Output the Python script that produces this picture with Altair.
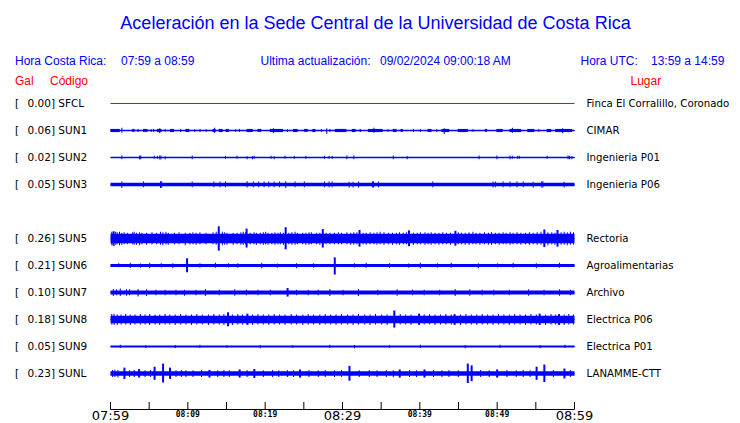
import altair as alt
import pandas as pd

TITLE = "Aceleración en la Sede Central de la Universidad de Costa Rica"
HORA_CR = "07:59 a 08:59"
ACTUALIZACION = "09/02/2024 09:00:18 AM"
HORA_UTC = "13:59 a 14:59"

codes = ["SFCL", "SUN1", "SUN2", "SUN3", "SUN5", "SUN6", "SUN7", "SUN8", "SUN9", "SUNL"]
rows = [0, 1, 2, 3, 5, 6, 7, 8, 9, 10]
peak_gal = ["0.00", "0.06", "0.02", "0.05", "0.26", "0.21", "0.10", "0.18", "0.05", "0.23"]
places = ["Finca El Corralillo, Coronado", "CIMAR", "Ingenieria P01", "Ingenieria P06",
          "Rectoria", "Agroalimentarias", "Archivo", "Electrica P06", "Electrica P01", "LANAMME-CTT"]
trace_colors = ["#ff0000", "#0000ff", "#0000ff", "#0000ff", "#0000ff",
                "#0000ff", "#0000ff", "#0000ff", "#0000ff", "#0000ff"]
# continuous noise level of each trace (Gal, half width)
band_gal = [0.0, 0.016, 0.015, 0.04, 0.105, 0.033, 0.042, 0.085, 0.02, 0.05]

tick_minutes = list(range(0, 61, 5))
big_minutes = [0, 30, 60]
big_labels = ["07:59", "08:29", "08:59"]
small_minutes = [10, 20, 40, 50]
small_labels = ["08:09", "08:19", "08:39", "08:49"]

# stretches of slightly higher noise: (minute start, minute end, up Gal, down Gal)
segments = {
    "SUN1": [(0.0, 1.2, 0.035, 0.035), (2.8, 3.1, 0.035, 0.03), (3.5, 3.65, 0.035, 0.035), (4.2, 4.8, 0.035, 0.03),
             (5.2, 5.35, 0.03, 0.03), (5.5, 5.65, 0.035, 0.03), (6.0, 6.6, 0.035, 0.035), (7.0, 7.15, 0.035, 0.03),
             (7.7, 8.2, 0.035, 0.035), (9.0, 9.15, 0.03, 0.035), (9.7, 10.2, 0.035, 0.035), (10.8, 10.95, 0.03, 0.03),
             (11.5, 11.65, 0.035, 0.03), (12.3, 12.45, 0.03, 0.03), (13.2, 13.6, 0.035, 0.035), (14.0, 14.5, 0.035, 0.035),
             (14.9, 15.3, 0.035, 0.035), (16.1, 16.25, 0.03, 0.03), (16.6, 16.75, 0.035, 0.03), (17.6, 18.4, 0.035, 0.035),
             (19.0, 19.5, 0.035, 0.03), (20.6, 22.3, 0.035, 0.035), (22.8, 22.95, 0.03, 0.035), (23.6, 24.2, 0.035, 0.035),
             (25.0, 25.5, 0.035, 0.03), (26.1, 26.5, 0.035, 0.035), (27.2, 27.35, 0.03, 0.03), (28.3, 28.45, 0.035, 0.03),
             (29.0, 30.5, 0.035, 0.035), (31.2, 31.7, 0.035, 0.035), (32.2, 32.4, 0.03, 0.03), (33.3, 35.2, 0.035, 0.035),
             (35.8, 35.95, 0.03, 0.03), (36.5, 37.0, 0.035, 0.035), (37.5, 37.8, 0.035, 0.03), (39.1, 39.25, 0.03, 0.03),
             (40.0, 40.15, 0.03, 0.03), (41.0, 41.5, 0.035, 0.035), (42.1, 42.25, 0.03, 0.03), (42.8, 43.8, 0.035, 0.035),
             (44.9, 46.2, 0.035, 0.035), (46.8, 46.95, 0.03, 0.03), (48.4, 48.7, 0.035, 0.03), (49.9, 50.7, 0.035, 0.035),
             (51.6, 53.1, 0.035, 0.035), (53.9, 54.8, 0.035, 0.035), (55.3, 55.45, 0.03, 0.03), (56.4, 57.0, 0.035, 0.035),
             (57.5, 59.7, 0.035, 0.035)],
}

# one-pixel spikes of the ragged edge: (minute, up Gal, down Gal)
texture = {
    "SUN1": [(1.4, 0.06, 0.05), (6.3, 0.05, 0.06), (13.4, 0.06, 0.05), (21.0, 0.05, 0.06), (27.9, 0.05, 0.08),
             (34.0, 0.06, 0.05), (43.1, 0.05, 0.08), (51.9, 0.06, 0.05), (58.4, 0.05, 0.06)],
    "SUN2": [(1.4, 0.045, 0.04), (3.7, 0.045, 0.045), (3.85, 0.045, 0.04), (5.6, 0.04, 0.03), (6.0, 0.04, 0.03),
             (6.3, 0.045, 0.045), (6.45, 0.045, 0.045), (7.0, 0.03, 0.04), (10.5, 0.045, 0.04), (14.8, 0.04, 0.03),
             (16.3, 0.04, 0.03), (17.6, 0.03, 0.04), (18.3, 0.03, 0.04), (18.5, 0.04, 0.03), (20.7, 0.04, 0.03),
             (21.1, 0.03, 0.04), (22.5, 0.04, 0.03), (23.7, 0.04, 0.03), (25.2, 0.04, 0.03), (27.6, 0.04, 0.03),
             (28.2, 0.04, 0.03), (28.6, 0.04, 0.03), (30.5, 0.045, 0.04), (31.4, 0.045, 0.04), (36.5, 0.045, 0.04),
             (38.3, 0.03, 0.04), (47.6, 0.045, 0.04), (49.9, 0.045, 0.04), (51.6, 0.045, 0.04), (51.9, 0.04, 0.03),
             (52.6, 0.04, 0.03), (52.8, 0.04, 0.03), (56.4, 0.04, 0.03), (59.1, 0.045, 0.04), (59.3, 0.04, 0.04),
             (59.6, 0.03, 0.04)],
    "SUN3": [(1.4, 0.065, 0.075), (4.2, 0.065, 0.06), (6.4, 0.075, 0.075), (6.55, 0.07, 0.07), (10.5, 0.065, 0.06),
             (13.3, 0.065, 0.06), (14.1, 0.065, 0.06), (14.8, 0.065, 0.06), (17.6, 0.075, 0.065), (18.4, 0.065, 0.06),
             (19.1, 0.065, 0.06), (19.8, 0.065, 0.06), (20.4, 0.065, 0.06), (21.1, 0.065, 0.06), (21.8, 0.065, 0.06),
             (22.6, 0.075, 0.075), (23.8, 0.065, 0.06), (25.0, 0.065, 0.06), (27.6, 0.065, 0.06), (28.2, 0.065, 0.06),
             (28.6, 0.065, 0.06), (30.8, 0.06, 0.065), (31.3, 0.06, 0.065), (32.0, 0.065, 0.065), (33.8, 0.075, 0.065),
             (33.95, 0.07, 0.065), (34.6, 0.065, 0.06), (41.6, 0.065, 0.06), (49.4, 0.065, 0.065), (49.7, 0.065, 0.06),
             (50.7, 0.065, 0.06), (51.6, 0.065, 0.06), (52.5, 0.065, 0.06), (53.3, 0.065, 0.06), (54.6, 0.06, 0.065),
             (55.7, 0.075, 0.065), (55.85, 0.07, 0.065), (58.6, 0.06, 0.065)],
    "SUN5": [(0.1, 0.15, 0.15), (0.3, 0.14, 0.15), (0.6, 0.15, 0.14), (0.8, 0.14, 0.13), (1.1, 0.15, 0.15),
             (1.4, 0.13, 0.14), (1.7, 0.14, 0.13), (2.1, 0.13, 0.13), (2.8, 0.14, 0.13), (3.0, 0.15, 0.14),
             (3.3, 0.13, 0.14), (3.7, 0.14, 0.15), (4.0, 0.13, 0.13), (4.6, 0.13, 0.14), (5.3, 0.14, 0.13),
             (5.9, 0.13, 0.13), (6.4, 0.15, 0.14), (6.7, 0.14, 0.15), (7.1, 0.15, 0.13), (7.4, 0.13, 0.14),
             (8.2, 0.13, 0.13), (8.8, 0.14, 0.13), (9.6, 0.13, 0.15), (10.2, 0.13, 0.13), (10.6, 0.14, 0.13),
             (11.0, 0.13, 0.14), (11.5, 0.14, 0.13), (12.3, 0.13, 0.13), (13.2, 0.14, 0.13), (13.6, 0.15, 0.14),
             (14.4, 0.15, 0.15), (14.7, 0.14, 0.14), (15.0, 0.13, 0.14), (15.8, 0.13, 0.14), (16.3, 0.13, 0.13),
             (16.8, 0.14, 0.14), (17.1, 0.15, 0.14), (17.4, 0.14, 0.13), (18.0, 0.13, 0.13), (18.5, 0.14, 0.13),
             (18.8, 0.13, 0.14), (19.3, 0.13, 0.13), (19.7, 0.14, 0.14), (20.0, 0.15, 0.13), (20.3, 0.13, 0.14),
             (20.8, 0.13, 0.13), (21.2, 0.14, 0.14), (21.6, 0.13, 0.13), (21.9, 0.14, 0.13), (22.3, 0.13, 0.14),
             (23.0, 0.13, 0.13), (23.4, 0.14, 0.14), (23.8, 0.15, 0.14), (24.1, 0.13, 0.13), (24.8, 0.13, 0.13),
             (25.2, 0.13, 0.14), (25.6, 0.14, 0.14), (25.9, 0.14, 0.13), (26.6, 0.13, 0.13), (27.0, 0.13, 0.14),
             (27.8, 0.13, 0.13), (28.3, 0.13, 0.13), (28.9, 0.13, 0.13), (29.4, 0.14, 0.13), (29.8, 0.13, 0.13),
             (30.5, 0.14, 0.13), (31.0, 0.13, 0.14), (31.4, 0.14, 0.14), (31.8, 0.14, 0.13), (32.6, 0.13, 0.13),
             (33.0, 0.13, 0.14), (33.5, 0.14, 0.13), (34.0, 0.13, 0.13), (34.4, 0.14, 0.14), (34.8, 0.15, 0.13),
             (35.3, 0.14, 0.14), (35.9, 0.13, 0.13), (36.4, 0.13, 0.14), (36.9, 0.13, 0.13), (37.3, 0.14, 0.14),
             (37.8, 0.13, 0.13), (38.2, 0.14, 0.13), (39.1, 0.13, 0.14), (39.6, 0.13, 0.13), (40.0, 0.14, 0.13),
             (40.6, 0.14, 0.14), (41.0, 0.13, 0.13), (41.4, 0.14, 0.14), (41.9, 0.13, 0.13), (42.4, 0.13, 0.14),
             (42.9, 0.14, 0.13), (43.4, 0.13, 0.13), (43.9, 0.13, 0.14), (44.9, 0.14, 0.13), (45.3, 0.13, 0.13),
             (45.8, 0.13, 0.14), (46.3, 0.14, 0.14), (46.8, 0.15, 0.13), (47.2, 0.13, 0.13), (47.7, 0.13, 0.14),
             (48.3, 0.14, 0.13), (48.8, 0.13, 0.14), (49.2, 0.14, 0.14), (49.7, 0.13, 0.13), (50.2, 0.13, 0.14),
             (50.7, 0.14, 0.13), (51.1, 0.13, 0.13), (51.6, 0.14, 0.14), (52.0, 0.13, 0.13), (52.5, 0.14, 0.13),
             (53.0, 0.13, 0.14), (53.6, 0.13, 0.13), (54.1, 0.14, 0.14), (54.6, 0.13, 0.13), (55.1, 0.14, 0.14),
             (55.6, 0.15, 0.14), (56.5, 0.14, 0.15), (57.0, 0.14, 0.13), (57.4, 0.13, 0.14), (58.2, 0.14, 0.14),
             (58.6, 0.15, 0.14), (59.0, 0.14, 0.15), (59.4, 0.15, 0.14), (59.8, 0.14, 0.14)],
    "SUN6": [(1.0, 0.05, 0.04), (2.5, 0.06, 0.05), (3.8, 0.045, 0.05), (5.0, 0.06, 0.06), (6.5, 0.05, 0.045),
             (8.0, 0.05, 0.06), (11.5, 0.05, 0.05), (13.5, 0.06, 0.05), (15.2, 0.05, 0.045), (16.4, 0.05, 0.05),
             (19.5, 0.06, 0.06), (21.5, 0.045, 0.05), (24.0, 0.05, 0.06), (26.2, 0.05, 0.05), (31.5, 0.05, 0.045),
             (33.0, 0.06, 0.05), (36.0, 0.05, 0.05), (38.5, 0.045, 0.05), (40.0, 0.06, 0.06), (42.2, 0.05, 0.05),
             (44.0, 0.06, 0.05), (47.5, 0.05, 0.06), (50.0, 0.05, 0.045), (52.0, 0.06, 0.05), (55.0, 0.05, 0.06),
             (58.0, 0.06, 0.05)],
    "SUN7": [(0.3, 0.08, 0.08), (0.7, 0.07, 0.06), (1.2, 0.09, 0.08), (2.0, 0.07, 0.07), (2.4, 0.07, 0.06),
             (3.5, 0.08, 0.09), (4.6, 0.07, 0.08), (5.8, 0.06, 0.06), (7.0, 0.06, 0.06), (8.4, 0.06, 0.06),
             (9.5, 0.06, 0.07), (11.0, 0.06, 0.06), (12.2, 0.08, 0.08), (14.0, 0.06, 0.06), (16.0, 0.07, 0.07),
             (17.5, 0.06, 0.06), (19.0, 0.06, 0.06), (20.6, 0.06, 0.06), (24.0, 0.06, 0.06), (25.5, 0.06, 0.06),
             (26.8, 0.06, 0.06), (28.3, 0.08, 0.08), (30.0, 0.06, 0.06), (32.0, 0.08, 0.08), (34.5, 0.06, 0.06),
             (37.0, 0.07, 0.07), (39.0, 0.06, 0.06), (40.5, 0.06, 0.06), (42.5, 0.06, 0.06), (44.5, 0.08, 0.08),
             (46.4, 0.07, 0.07), (48.0, 0.06, 0.06), (49.5, 0.06, 0.06), (51.5, 0.06, 0.06), (54.0, 0.07, 0.07),
             (56.0, 0.06, 0.06), (58.0, 0.07, 0.07), (59.4, 0.06, 0.06)],
    "SUN8": [(0.1, 0.12, 0.11), (0.4, 0.13, 0.12), (0.8, 0.11, 0.12), (1.3, 0.11, 0.11), (1.9, 0.12, 0.11),
             (2.5, 0.11, 0.12), (3.1, 0.11, 0.11), (3.8, 0.12, 0.11), (4.4, 0.11, 0.11), (5.0, 0.12, 0.12),
             (5.7, 0.11, 0.11), (6.3, 0.11, 0.12), (7.0, 0.12, 0.11), (7.6, 0.11, 0.11), (8.3, 0.11, 0.12),
             (9.0, 0.12, 0.11), (9.7, 0.11, 0.11), (10.4, 0.11, 0.12), (11.1, 0.12, 0.11), (11.8, 0.11, 0.11),
             (12.6, 0.11, 0.12), (13.3, 0.12, 0.11), (14.0, 0.11, 0.11), (14.6, 0.12, 0.12), (15.7, 0.11, 0.12),
             (16.4, 0.12, 0.11), (17.0, 0.11, 0.11), (18.3, 0.11, 0.12), (19.0, 0.12, 0.11), (19.7, 0.11, 0.11),
             (20.4, 0.11, 0.12), (21.1, 0.12, 0.11), (21.8, 0.11, 0.11), (22.5, 0.11, 0.12), (23.3, 0.12, 0.11),
             (24.0, 0.11, 0.11), (24.8, 0.11, 0.12), (25.5, 0.12, 0.11), (26.2, 0.11, 0.11), (27.0, 0.11, 0.12),
             (27.7, 0.12, 0.11), (28.4, 0.11, 0.11), (29.1, 0.11, 0.12), (29.8, 0.12, 0.11), (30.6, 0.11, 0.11),
             (31.3, 0.11, 0.12), (32.0, 0.12, 0.11), (32.8, 0.11, 0.11), (33.5, 0.11, 0.12), (34.2, 0.12, 0.11),
             (35.0, 0.11, 0.11), (35.7, 0.11, 0.12), (37.4, 0.12, 0.11), (38.1, 0.11, 0.11), (38.8, 0.11, 0.12),
             (40.5, 0.11, 0.11), (41.2, 0.12, 0.11), (41.9, 0.11, 0.12), (42.6, 0.11, 0.11), (43.3, 0.12, 0.11),
             (44.0, 0.11, 0.11), (45.2, 0.11, 0.12), (45.9, 0.12, 0.11), (46.6, 0.11, 0.11), (47.3, 0.11, 0.12),
             (48.0, 0.12, 0.11), (48.7, 0.11, 0.11), (49.4, 0.11, 0.12), (50.1, 0.12, 0.11), (50.8, 0.11, 0.11),
             (51.5, 0.11, 0.12), (52.2, 0.12, 0.11), (52.9, 0.11, 0.11), (53.6, 0.11, 0.12), (54.3, 0.12, 0.11),
             (55.0, 0.11, 0.11), (56.2, 0.11, 0.12), (56.9, 0.12, 0.11), (57.5, 0.11, 0.11), (58.6, 0.11, 0.12),
             (59.2, 0.12, 0.11), (59.8, 0.11, 0.11)],
    "SUN9": [(1.2, 0.04, 0.035), (4.5, 0.03, 0.035), (8.3, 0.035, 0.04), (11.5, 0.04, 0.035), (15.0, 0.03, 0.03),
             (19.3, 0.035, 0.04), (23.5, 0.03, 0.03), (28.3, 0.04, 0.035), (31.5, 0.035, 0.04), (36.0, 0.03, 0.03),
             (40.0, 0.04, 0.035), (45.8, 0.035, 0.04), (50.3, 0.04, 0.035), (55.5, 0.035, 0.04), (58.7, 0.04, 0.035)],
    "SUNL": [(0.2, 0.08, 0.08), (0.5, 0.09, 0.08), (0.9, 0.08, 0.09), (2.4, 0.075, 0.075), (3.0, 0.08, 0.075),
             (4.4, 0.075, 0.08), (5.1, 0.08, 0.08), (8.4, 0.075, 0.075), (9.1, 0.08, 0.08), (9.7, 0.075, 0.08),
             (10.6, 0.075, 0.075), (11.7, 0.08, 0.075), (13.8, 0.075, 0.08), (14.6, 0.08, 0.08), (15.3, 0.075, 0.075),
             (17.6, 0.08, 0.075), (19.7, 0.075, 0.08), (20.9, 0.08, 0.08), (21.7, 0.075, 0.075), (22.8, 0.08, 0.08),
             (23.6, 0.075, 0.075), (25.6, 0.08, 0.075), (26.8, 0.075, 0.08), (27.7, 0.08, 0.08), (28.9, 0.075, 0.075),
             (29.8, 0.08, 0.08), (32.1, 0.075, 0.075), (33.4, 0.08, 0.08), (34.4, 0.075, 0.08), (35.6, 0.08, 0.075),
             (36.5, 0.075, 0.075), (38.6, 0.08, 0.08), (39.5, 0.075, 0.075), (41.7, 0.08, 0.08), (42.8, 0.075, 0.08),
             (43.7, 0.08, 0.075), (44.9, 0.075, 0.075), (47.8, 0.08, 0.08), (48.9, 0.075, 0.075), (51.2, 0.08, 0.08),
             (52.4, 0.075, 0.08), (53.3, 0.08, 0.075), (54.2, 0.075, 0.075), (57.2, 0.08, 0.08), (59.4, 0.08, 0.08)],
}

# larger spikes, about two pixels wide: (minute, up Gal, down Gal)
events = {
    "SUN5": [(14.0, 0.27, 0.27), (17.6, 0.22, 0.2), (22.65, 0.25, 0.24), (27.45, 0.21, 0.2), (32.2, 0.19, 0.18),
             (38.6, 0.18, 0.17), (44.6, 0.17, 0.16), (56.1, 0.2, 0.19), (57.8, 0.19, 0.18), (0.4, 0.16, 0.16)],
    "SUN6": [(9.9, 0.16, 0.15), (29.0, 0.18, 0.2)],
    "SUN7": [(22.9, 0.1, 0.09)],
    "SUN8": [(15.2, 0.16, 0.15), (17.7, 0.13, 0.12), (36.7, 0.2, 0.18), (39.9, 0.13, 0.12), (44.5, 0.12, 0.12),
             (55.5, 0.13, 0.12), (58.0, 0.12, 0.12)],
    "SUNL": [(1.8, 0.13, 0.12), (3.7, 0.1, 0.09), (5.7, 0.15, 0.14), (6.8, 0.22, 0.2), (7.7, 0.13, 0.12),
             (12.8, 0.08, 0.09), (16.7, 0.09, 0.09), (18.6, 0.1, 0.1), (24.5, 0.09, 0.09), (30.9, 0.17, 0.16),
             (37.4, 0.09, 0.09), (40.6, 0.09, 0.09), (46.2, 0.22, 0.21), (46.7, 0.18, 0.17), (50.0, 0.09, 0.09),
             (55.1, 0.15, 0.14), (56.1, 0.2, 0.19), (58.7, 0.11, 0.11)],
}

PX_PER_GAL = 45.0
ROW_PX = 27.0
K = PX_PER_GAL / ROW_PX
W, H = 464, 319
ONE_PX_MIN = 60.0 / W

row_of = dict(zip(codes, rows))
band_df = pd.DataFrame({
    "code": codes, "row": rows, "x0": 0.0, "x1": 60.0,
    "ylo": [r - b * K for r, b in zip(rows, band_gal)],
    "yhi": [r + b * K for r, b in zip(rows, band_gal)],
})
recs = []
for c, lst in segments.items():
    for m0, m1, up, dn in lst:
        recs.append({"code": c, "m0": m0, "m1": m1, "ylo": row_of[c] - up * K, "yhi": row_of[c] + dn * K})
for c, lst in texture.items():
    for m, up, dn in lst:
        recs.append({"code": c, "m0": m, "m1": min(60.0, m + ONE_PX_MIN),
                     "ylo": row_of[c] - up * K, "yhi": row_of[c] + dn * K})
for c, lst in events.items():
    for m, up, dn in lst:
        recs.append({"code": c, "m0": m - ONE_PX_MIN, "m1": m + ONE_PX_MIN,
                     "ylo": row_of[c] - up * K, "yhi": row_of[c] + dn * K})
burst_df = pd.DataFrame(recs)

xs = alt.Scale(domain=[0, 60], nice=False, zero=False)
ys = alt.Scale(domain=[-0.5, (H - 13.5) / ROW_PX], reverse=True, nice=False, zero=False)
col = alt.Color("code:N", scale=alt.Scale(domain=codes, range=trace_colors), legend=None)

bands = alt.Chart(band_df).mark_rect().encode(
    x=alt.X("x0:Q", scale=xs, axis=None), x2="x1",
    y=alt.Y("ylo:Q", scale=ys, axis=None), y2="yhi", color=col)
centers = alt.Chart(band_df).mark_rule(strokeWidth=1).encode(
    x=alt.X("x0:Q", scale=xs, axis=None), x2="x1",
    y=alt.Y("row:Q", scale=ys, axis=None), color=col)
burst_marks = alt.Chart(burst_df).mark_rect().encode(
    x=alt.X("m0:Q", scale=xs, axis=None), x2="m1",
    y=alt.Y("ylo:Q", scale=ys, axis=None), y2="yhi", color=col)

axis_df = pd.DataFrame({"x0": [0.0], "x1": [60.0]})
axis_line = alt.Chart(axis_df).mark_rule(color="black", strokeWidth=1).encode(
    x=alt.X("x0:Q", scale=xs, axis=None), x2="x1", y=alt.value(H + 0.5))
ticks = alt.Chart(pd.DataFrame({"m": tick_minutes})).mark_rule(color="black", strokeWidth=1).encode(
    x=alt.X("m:Q", scale=xs, axis=None), y=alt.value(H - 7), y2=alt.value(H + 0.5))
big_lab = alt.Chart(pd.DataFrame({"m": big_minutes, "t": big_labels})).mark_text(
    font="DejaVu Sans", fontSize=13, align="center", baseline="alphabetic", color="black").encode(
    x=alt.X("m:Q", scale=xs, axis=None), y=alt.value(H + 11), text="t:N")
small_lab = alt.Chart(pd.DataFrame({"m": small_minutes, "t": small_labels})).mark_text(
    font="DejaVu Sans Mono", fontSize=8, fontWeight="bold", align="center", baseline="alphabetic",
    color="black").encode(x=alt.X("m:Q", scale=xs, axis=None), y=alt.value(H + 8), text="t:N")

lab_df = pd.DataFrame({"row": rows, "left": [f"{p}] {c}" for p, c in zip(peak_gal, codes)], "place": places})
bracket = alt.Chart(lab_df).mark_text(text="[", font="DejaVu Sans", fontSize=10.5, align="left",
                                      baseline="middle", color="black").encode(
    x=alt.value(-95.5), y=alt.Y("row:Q", scale=ys, axis=None))
left_lab = alt.Chart(lab_df).mark_text(font="DejaVu Sans", fontSize=10.5, align="left",
                                       baseline="middle", color="black").encode(
    x=alt.value(-83), y=alt.Y("row:Q", scale=ys, axis=None), text="left:N")
right_lab = alt.Chart(lab_df).mark_text(font="DejaVu Sans", fontSize=10.2, align="left",
                                        baseline="middle", color="black").encode(
    x=alt.value(476), y=alt.Y("row:Q", scale=ys, axis=None), text="place:N")

one = pd.DataFrame({"a": [0]})


def txt(s, px, py, color, size, align="left"):
    return alt.Chart(one).mark_text(text=s, font="Liberation Sans", fontSize=size, align=align,
                                    baseline="alphabetic", color=color).encode(
        x=alt.value(px), y=alt.value(py))


BLUE = "#0000ff"
RED = "#ff0000"
header = [
    txt(TITLE, 265, -61, BLUE, 18, "center"),
    txt("Hora Costa Rica:", -95.5, -25, BLUE, 12),
    txt(HORA_CR, 10.5, -25, BLUE, 12),
    txt("Ultima actualización:", 150, -25, BLUE, 12),
    txt(ACTUALIZACION, 269.5, -25, BLUE, 12),
    txt("Hora UTC:", 470, -25, BLUE, 12),
    txt(HORA_UTC, 540.5, -25, BLUE, 12),
    txt("Gal", -95.5, -5, RED, 12),
    txt("Código", -60.5, -5, RED, 12),
    txt("Lugar", 520, -5, RED, 12),
]

chart = alt.layer(bands, centers, burst_marks, axis_line, ticks, big_lab, small_lab,
                  bracket, left_lab, right_lab, *header).properties(
    width=W, height=H,
    autosize=alt.AutoSizeParams(type="none"),
    padding={"left": 102.5, "top": 82, "right": 157.5, "bottom": 13},
).configure_view(stroke=None)

chart.save("out.html", embed_options={"renderer": "svg", "actions": False})
